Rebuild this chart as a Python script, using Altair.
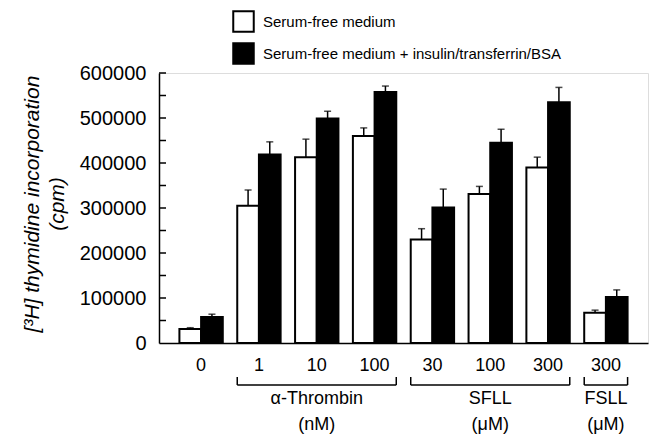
import altair as alt
import pandas as pd

# ---- data ----
doses = ["0", "1", "10", "100", "30", "100", "300", "300"]
groups = ["Control", "α-Thrombin", "α-Thrombin", "α-Thrombin", "SFLL", "SFLL", "SFLL", "FSLL"]
series = ["Serum-free medium", "Serum-free medium + insulin/transferrin/BSA"]
white_vals = [31000, 305000, 413000, 460000, 230000, 331000, 390000, 67000]
white_err = [3000, 35000, 40000, 18000, 24000, 17000, 23000, 6000]
black_vals = [58000, 419000, 499000, 558000, 301000, 445000, 535000, 102000]
black_err = [6000, 28000, 16000, 13000, 41000, 30000, 33000, 16000]
y_major = [0, 100000, 200000, 300000, 400000, 500000, 600000]
y_minor = [50000, 100000, 150000, 200000, 250000, 300000, 350000, 400000,
           450000, 500000, 550000, 600000]
bracket_names = ["α-Thrombin", "SFLL", "FSLL"]
bracket_units = ["(nM)", "(μM)", "(μM)"]
y_title = ["[³H] thymidine incorporation", "(cpm)"]

FONT = "Liberation Sans"

keys = [f"{i}|{d}" for i, d in enumerate(doses)]

rows = []
for i, k in enumerate(keys):
    rows.append({"key": k, "series": series[0], "value": white_vals[i],
                 "top": white_vals[i] + white_err[i]})
    rows.append({"key": k, "series": series[1], "value": black_vals[i],
                 "top": black_vals[i] + black_err[i]})
df = pd.DataFrame(rows)

br = []
for name, unit in zip(bracket_names, bracket_units):
    idx = [i for i, g in enumerate(groups) if g == name]
    br.append({"start": keys[idx[0]], "end": keys[idx[-1]],
               "mid": keys[idx[len(idx) // 2]], "name": name, "unit": unit})
bdf = pd.DataFrame(br)

tdf = pd.DataFrame({"tick": y_minor})

xscale = alt.Scale(domain=keys, paddingInner=0.25, paddingOuter=0.353)
yscale = alt.Scale(domain=[0, 600000], nice=False)
x_axis = alt.Axis(title=None, labelExpr="split(datum.label, '|')[1]", ticks=False,
                  tickSize=0, labelPadding=22, labelBaseline="middle",
                  labelFontSize=18, labelFont=FONT, labelColor="black",
                  domainColor="black", domainWidth=1.5, labelAngle=0, grid=False)
y_axis = alt.Axis(title=None, values=y_major, format="d", ticks=False, tickSize=0,
                  labelPadding=13, labelFontSize=20, labelFont=FONT,
                  labelColor="black", domainColor="black", domainWidth=1.5, grid=False)
xoff = alt.XOffset("series:N", scale=alt.Scale(domain=series, paddingInner=0, paddingOuter=0))

base = alt.Chart(df)

bars = base.mark_bar(stroke="black", strokeWidth=2).encode(
    x=alt.X("key:N", scale=xscale, axis=x_axis, sort=keys),
    xOffset=xoff,
    y=alt.Y("value:Q", scale=yscale, axis=y_axis),
    fill=alt.Fill("series:N", scale=alt.Scale(domain=series, range=["white", "black"]),
                  legend=alt.Legend(orient="none", legendX=73, legendY=-63, title=None,
                                    symbolType="square", symbolSize=420,
                                    symbolStrokeColor="black", symbolStrokeWidth=2,
                                    labelFontSize=15, labelFont=FONT, labelColor="black",
                                    labelLimit=0, rowPadding=3, labelOffset=8, padding=0)),
)

err = base.mark_rule(color="black", strokeWidth=1.5).encode(
    x=alt.X("key:N", scale=xscale, axis=x_axis, sort=keys),
    xOffset=xoff,
    y=alt.Y("value:Q", scale=yscale, axis=y_axis),
    y2="top:Q",
)

caps = base.mark_tick(color="black", thickness=1.5, size=7, orient="horizontal").encode(
    x=alt.X("key:N", scale=xscale, axis=x_axis, sort=keys),
    xOffset=xoff,
    y=alt.Y("top:Q", scale=yscale, axis=y_axis),
)

yticks = alt.Chart(tdf).mark_rule(color="black", strokeWidth=1.5).encode(
    y=alt.Y("tick:Q", scale=yscale, axis=y_axis),
    x=alt.value(0), x2=alt.value(7),
)

bchart = alt.Chart(bdf)
hline = bchart.mark_rule(color="black", strokeWidth=1.5).encode(
    x=alt.X("start:N", scale=xscale, axis=x_axis, bandPosition=0),
    x2=alt.X2("end", bandPosition=1),
    y=alt.value(312),
)
lend = bchart.mark_rule(color="black", strokeWidth=1.5).encode(
    x=alt.X("start:N", scale=xscale, axis=x_axis, bandPosition=0),
    y=alt.value(304), y2=alt.value(312),
)
rend = bchart.mark_rule(color="black", strokeWidth=1.5).encode(
    x=alt.X("end:N", scale=xscale, axis=x_axis, bandPosition=1),
    y=alt.value(304), y2=alt.value(312),
)
names = bchart.mark_text(font=FONT, fontSize=18, color="black", baseline="middle").encode(
    x=alt.X("mid:N", scale=xscale, axis=x_axis),
    y=alt.value(326),
    text="name:N",
)
units = bchart.mark_text(font=FONT, fontSize=18, color="black", baseline="middle").encode(
    x=alt.X("mid:N", scale=xscale, axis=x_axis),
    y=alt.value(352),
    text="unit:N",
)

title = alt.Chart(pd.DataFrame({"n": [0]})).mark_text(
    text=y_title, angle=270, align="center", baseline="middle", font=FONT,
    fontSize=21, fontStyle="italic", lineHeight=25, color="black",
).encode(x=alt.value(-126), y=alt.value(131))

chart = alt.layer(bars, err, caps, yticks, hline, lend, rend, names, units, title).properties(
    width=489, height=270,
    padding={"left": 159, "top": 73, "right": 4, "bottom": 95},
    autosize=alt.AutoSizeParams(type="none"),
).configure_view(stroke=None).configure(background="white")

chart.save("out.html", embed_options={"renderer": "svg", "actions": False})
